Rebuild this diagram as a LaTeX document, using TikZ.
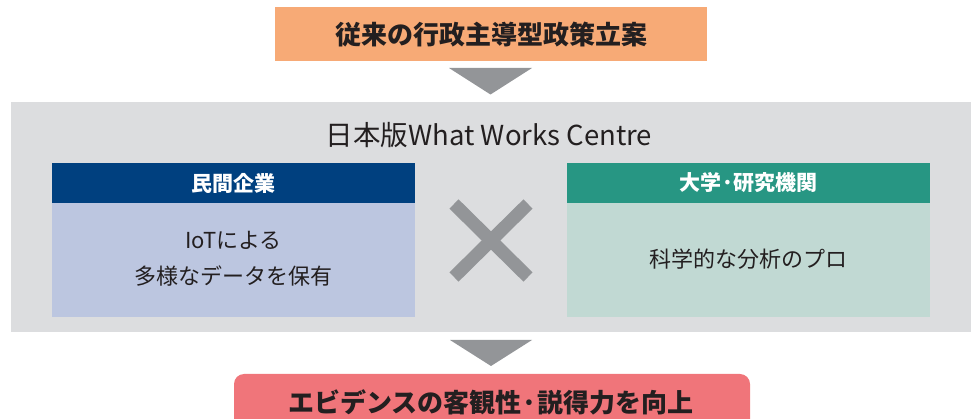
\documentclass[tikz,border=0pt]{standalone}
\usepackage{fontspec}
\setmainfont{Noto Sans CJK JP}
\definecolor{txt}{HTML}{231F20}
\definecolor{orangebox}{HTML}{F7AA76}
\definecolor{panel}{HTML}{DCDDDF}
\definecolor{bluehead}{HTML}{00407F}
\definecolor{bluebody}{HTML}{BCC6E0}
\definecolor{tealhead}{HTML}{279683}
\definecolor{tealbody}{HTML}{C1D9D3}
\definecolor{arrowgray}{HTML}{939598}
\definecolor{pinkbox}{HTML}{F0757A}
\begin{document}
\begin{tikzpicture}[x=1pt,y=-1pt,
  box/.style={draw=none,inner sep=0pt,outer sep=0pt},
  bigtext/.style={font=\fontsize{26}{30}\selectfont\bfseries,text=txt},
  headtext/.style={font=\fontsize{21}{25}\selectfont\bfseries,text=white},
  bodytext/.style={font=\fontsize{22}{36}\selectfont,text=txt,align=center},
  downarrow/.style={fill=arrowgray,draw=none},
  crossarm/.style={draw=arrowgray,line width=13pt,line cap=butt}]
\useasboundingbox (0,0) rectangle (975,419);
\clip (0,0) rectangle (975,419);
% top box
\fill[orangebox] (275,7) rectangle (707,61);
\node[bigtext] (top) at (491,35) {従来の行政主導型政策立案};
% arrow 1
\coordinate (a1l) at (449,68);
\coordinate (a1r) at (532,68);
\coordinate (a1t) at (490.5,94.5);
\fill[downarrow] (a1l) -- (a1r) -- (a1t) -- cycle;
% panel
\fill[panel] (11,102) rectangle (971,332);
\node[font=\fontsize{27.5}{32}\selectfont,text=txt] (title) at (489,135) {日本版What Works Centre};
% left
\fill[bluehead] (52,163) rectangle (415,203);
\fill[bluebody] (52,203) rectangle (415,317);
\node[headtext] (lh) at (233.5,183) {民間企業};
\node[bodytext] (lb) at (233.5,259) {IoTによる\\多様なデータを保有};
% right
\fill[tealhead] (567,163) rectangle (930,203);
\fill[tealbody] (567,203) rectangle (930,317);
\node[headtext] (rh) at (748.5,183) {大学·研究機関};
\node[bodytext] (rb) at (748.5,259) {科学的な分析のプロ};
% cross
\coordinate (c1) at (454,204);
\coordinate (c2) at (528,277);
\coordinate (c3) at (528,204);
\coordinate (c4) at (454,277);
\draw[crossarm] (c1) -- (c2);
\draw[crossarm] (c3) -- (c4);
% arrow 2
\coordinate (a2l) at (450,340);
\coordinate (a2r) at (532,340);
\coordinate (a2t) at (491,366);
\fill[downarrow] (a2l) -- (a2r) -- (a2t) -- cycle;
% bottom box
\fill[pinkbox,rounded corners=10pt] (234,374) rectangle (750,440);
\node[bigtext] (bottom) at (491,402) {エビデンスの客観性·説得力を向上};
\end{tikzpicture}
\end{document}
